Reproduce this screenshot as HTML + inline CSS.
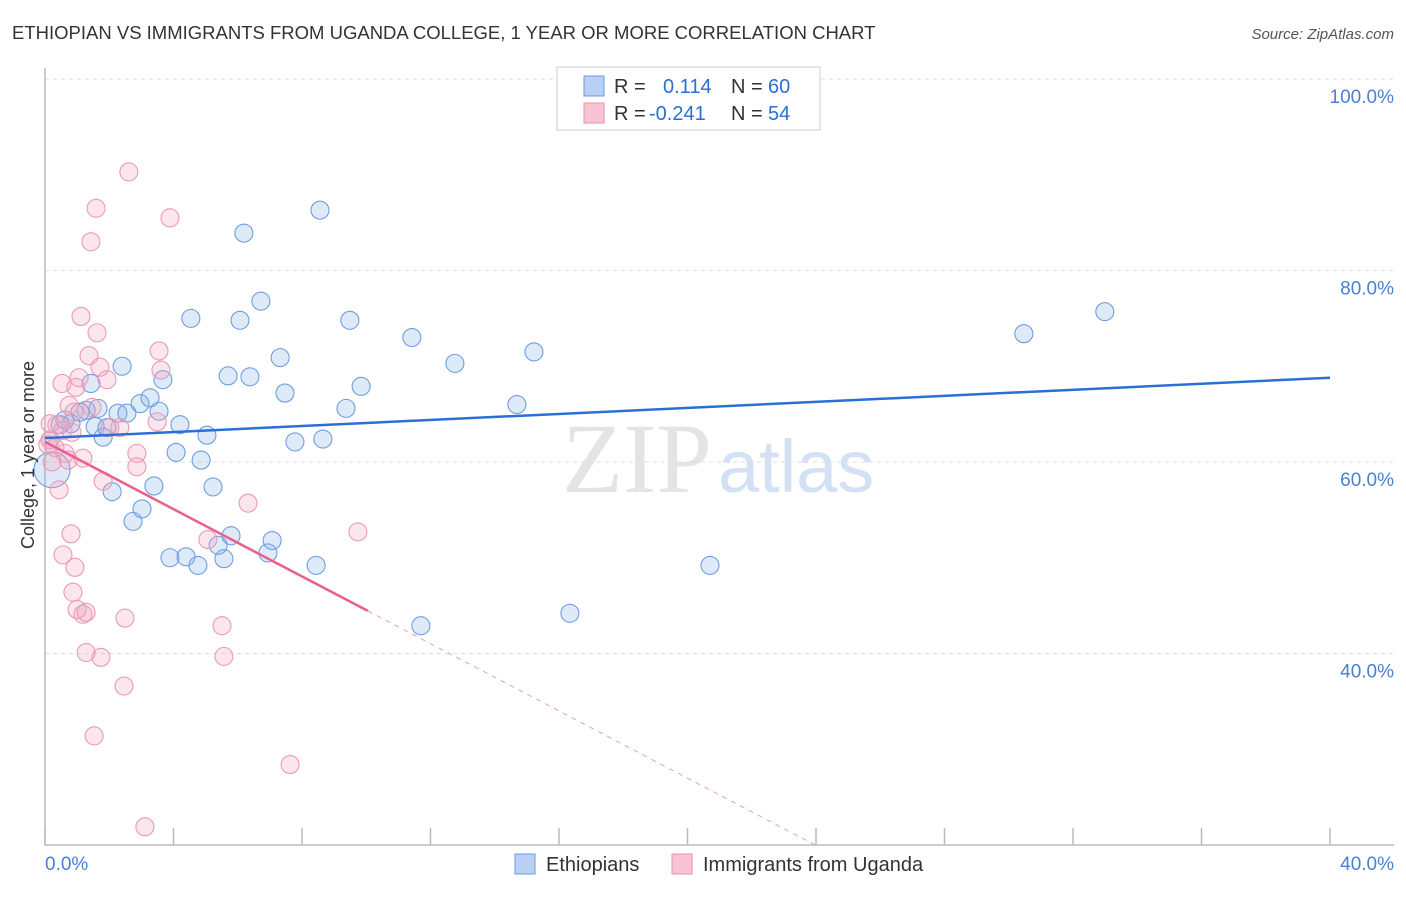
<!DOCTYPE html>
<html><head><meta charset="utf-8"><style>
body{margin:0;background:#fff;font-family:"Liberation Sans",sans-serif}
svg text{font-family:"Liberation Sans",sans-serif}
</style></head><body>
<svg id="c" width="1406" height="892" xmlns="http://www.w3.org/2000/svg">
<text x="12" y="39" font-size="18.5" fill="#333">ETHIOPIAN VS IMMIGRANTS FROM UGANDA COLLEGE, 1 YEAR OR MORE CORRELATION CHART</text>
<text x="1394" y="39" font-size="15" fill="#555" font-style="italic" text-anchor="end">Source: ZipAtlas.com</text>
<text x="712" y="492" font-size="100" fill="#e4e4e4" text-anchor="end" style="font-family:'Liberation Serif',serif">ZIP</text>
<text x="718" y="492" font-size="74" fill="#d4e1f4">atlas</text>
<g id="grid"></g>
<g id="marks"></g>
<text transform="translate(34,455) rotate(-90)" font-size="18" fill="#333" text-anchor="middle">College, 1 year or more</text>
<text x="45" y="870" font-size="19" fill="#4a7fd4">0.0%</text>
<text x="1394" y="870" font-size="19" fill="#4a7fd4" text-anchor="end">40.0%</text>
<g>
<rect x="557" y="67" width="263" height="63" fill="#fff" stroke="#ccc"/>
<rect x="584" y="76" width="20" height="20" fill="#b8d0f4" stroke="#6a9ae0"/>
<rect x="584" y="103" width="20" height="20" fill="#f8c4d4" stroke="#e890ac"/>
<text x="614" y="93" font-size="20" fill="#333">R =</text>
<text x="663" y="93" font-size="20" fill="#2a6fd6">0.114</text>
<text x="731" y="93" font-size="20" fill="#333">N =</text>
<text x="768" y="93" font-size="20" fill="#2a6fd6">60</text>
<text x="614" y="120" font-size="20" fill="#333">R =</text>
<text x="649" y="120" font-size="20" fill="#2a6fd6">-0.241</text>
<text x="731" y="120" font-size="20" fill="#333">N =</text>
<text x="768" y="120" font-size="20" fill="#2a6fd6">54</text>
</g>
<g>
<rect x="515" y="854" width="20" height="20" fill="#b8d0f4" stroke="#6a9ae0"/>
<text x="546" y="871" font-size="20" fill="#333">Ethiopians</text>
<rect x="672" y="854" width="20" height="20" fill="#f8c4d4" stroke="#e890ac"/>
<text x="703" y="871" font-size="20" fill="#333">Immigrants from Uganda</text>
</g>
</svg>
<script>
const yTicks=[40,60,80,100];
const yTickLabels=["40.0%","60.0%","80.0%","100.0%"];
const xTicks=[0,4,8,12,16,20,24,28,32,36,40];
const ethX=[1.43,1.28,1.65,1.56,1.81,1.93,2.27,2.40,2.55,2.96,3.27,3.55,3.67,4.20,4.08,4.54,5.04,4.86,5.23,5.70,6.07,6.19,6.38,6.72,7.32,7.47,7.78,8.65,8.56,9.37,9.49,9.84,11.42,12.76,14.69,15.22,30.47,32.99,2.09,2.74,3.02,3.39,3.89,4.39,4.76,5.57,5.39,5.79,6.94,7.07,8.44,11.70,16.34,20.70,1.09,0.81,0.47,0.16,0.22,0.62];
const ethY=[68.2,65.4,65.6,63.7,62.6,63.6,65.1,70.0,65.1,66.1,66.7,65.3,68.6,63.9,61.0,75.0,62.8,60.2,57.4,69.0,74.8,83.9,68.9,76.8,70.9,67.2,62.1,62.4,86.3,65.6,74.8,67.9,73.0,70.3,66.0,71.5,73.4,75.7,56.9,53.8,55.1,57.5,50.0,50.1,49.2,49.9,51.3,52.3,50.5,51.8,49.2,42.9,44.2,49.2,65.2,64.0,63.9,62.3,59.2,64.4];
const ethSize=[1,1,1,1,1,1,1,1,1,1,1,1,1,1,1,1,1,1,1,1,1,1,1,1,1,1,1,1,1,1,1,1,1,1,1,1,1,1,1,1,1,1,1,1,1,1,1,1,1,1,1,1,1,1,1,1,1,1,2,1];
const ugX=[2.61,1.59,3.89,1.43,1.12,1.62,3.55,1.37,1.71,3.61,1.93,0.53,0.96,1.06,0.75,1.46,0.90,2.02,0.37,0.56,0.84,0.16,0.31,0.62,0.72,1.18,2.86,2.86,1.81,0.44,6.32,9.74,0.81,0.56,0.93,5.07,0.87,1.00,1.18,1.28,2.49,5.51,1.28,1.74,5.57,2.46,1.53,7.63,3.11,0.16,0.09,3.49,2.33,0.22];
const ugY=[90.3,86.5,85.5,83.0,75.2,73.5,71.6,71.1,69.9,69.6,68.6,68.2,67.8,68.8,65.9,65.7,65.2,63.6,63.9,63.3,63.1,62.3,61.5,60.9,60.2,60.4,60.9,59.5,58.0,57.1,55.7,52.7,52.5,50.3,49.0,51.9,46.4,44.6,44.1,44.3,43.7,42.9,40.1,39.6,39.7,36.6,31.4,28.4,21.9,64.0,61.8,64.2,63.6,60.0];
const ethTrend=[62.5,68.8]; // y at x=0 and x=40
const ugTrend=[62.1,-1.756]; // intercept, slope
const ugSolidEnd=10.05;
const NS="http://www.w3.org/2000/svg";
const sx=v=>45+v*32.125, sy=v=>79+(100-v)*9.575;
function mk(t,a,p){const e=document.createElementNS(NS,t);for(const k in a)e.setAttribute(k,a[k]);p.appendChild(e);return e;}
const grid=document.getElementById('grid'),marks=document.getElementById('marks'),svg=document.getElementById('c');
yTicks.forEach((t,i)=>{
 const l=mk('line',{x1:45,x2:1394,y1:sy(t),y2:sy(t),stroke:'#ddd','stroke-dasharray':'4,4'},grid);
 
 
 const tx=mk('text',{x:1394,y:sy(t)+24,'font-size':19,fill:'#4a7fd4','text-anchor':'end'},svg);
 tx.textContent=yTickLabels[i];
 
 
});
const ax=mk('path',{d:'M45,68V845H1394',fill:'none',stroke:'#bbb','stroke-width':1.5},grid);


xTicks.forEach(t=>{const l=mk('line',{x1:sx(t),x2:sx(t),y1:828,y2:845,stroke:'#bbb','stroke-width':1.5},grid);
 
 });
ethX.forEach((x,i)=>{const c=mk('circle',{cx:sx(x),cy:sy(ethY[i]),r:ethSize[i]>1?18:9,fill:'rgba(140,180,235,0.28)',stroke:'#6e9ee0','stroke-width':1.1},marks);
 
 });
ugX.forEach((x,i)=>{const c=mk('circle',{cx:sx(x),cy:sy(ugY[i]),r:9,fill:'rgba(245,165,190,0.28)',stroke:'#ec9ab4','stroke-width':1.1},marks);
 
 });
const bl=mk('line',{x1:sx(0),y1:sy(ethTrend[0]),x2:sx(40),y2:sy(ethTrend[1]),stroke:'#2a6fd6','stroke-width':2.5},marks);


const yEnd=ugTrend[0]+ugTrend[1]*ugSolidEnd, xz=(20-ugTrend[0])/ugTrend[1];
const pl=mk('line',{x1:sx(0),y1:sy(ugTrend[0]),x2:sx(ugSolidEnd),y2:sy(yEnd),stroke:'#e8608e','stroke-width':2.5},marks);


const pd=mk('line',{x1:sx(ugSolidEnd),y1:sy(yEnd),x2:sx(xz),y2:sy(20),stroke:'#e8a0b8','stroke-width':1,'stroke-dasharray':'5,5'},marks);


</script>
</body></html>
